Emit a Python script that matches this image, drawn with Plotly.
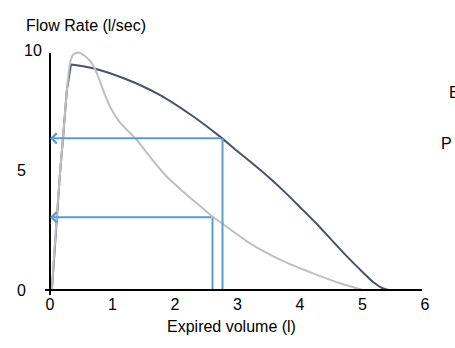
import plotly.graph_objects as go

# Data
vol_dark = [0.03, 0.09, 0.16, 0.21, 0.27, 0.336, 0.69, 1.2, 1.74, 2.27, 2.72, 3.0, 3.25, 3.5, 3.75, 4.0, 4.25, 4.5, 4.75, 5.0, 5.17, 5.3, 5.42]
flow_dark = [0.0, 2.4, 4.86, 6.39, 8.33, 9.4, 9.24, 8.8, 8.15, 7.27, 6.39, 5.78, 5.25, 4.7, 4.1, 3.45, 2.8, 2.1, 1.4, 0.75, 0.33, 0.1, 0.0]

vol_grey = [0.03, 0.09, 0.16, 0.21, 0.27, 0.32, 0.37, 0.45, 0.56, 0.67, 0.75, 0.85, 0.96, 1.09, 1.23, 1.39, 1.6, 1.87, 2.19, 2.4, 2.6, 2.75, 3.2, 3.73, 4.27, 4.64, 4.91, 5.0]
flow_grey = [0.0, 2.4, 4.86, 6.39, 8.33, 9.45, 9.8, 9.9, 9.75, 9.44, 9.03, 8.33, 7.64, 7.08, 6.67, 6.25, 5.55, 4.72, 3.96, 3.5, 3.06, 2.78, 1.94, 1.2, 0.63, 0.28, 0.07, 0.0]

arrow_vol = [2.76, 2.60]
arrow_flow = [6.32, 3.03]

x_ticks = [0, 1, 2, 3, 4, 5, 6]
y_tick_vals = [10, 5, 0]
y_tick_text = ["10", "5", "0"]

DARK = "#44546A"
GREY = "#BFBFBF"
BLUE = "#5B9BD5"
FONT = "Arial, Liberation Sans, sans-serif"

fig = go.Figure()
peak = flow_dark.index(max(flow_dark))
fig.add_trace(go.Scatter(x=vol_dark[:peak + 1], y=flow_dark[:peak + 1], mode="lines",
                         line=dict(color=DARK, width=2), hoverinfo="skip"))
fig.add_trace(go.Scatter(x=vol_dark[peak:], y=flow_dark[peak:], mode="lines",
                         line=dict(color=DARK, width=2, shape="spline", smoothing=0.8),
                         hoverinfo="skip"))
fig.add_trace(go.Scatter(x=vol_grey, y=flow_grey, mode="lines",
                         line=dict(color=GREY, width=2, shape="spline", smoothing=0.6),
                         hoverinfo="skip"))

annotations = []
for v, f in zip(arrow_vol, arrow_flow):
    fig.add_trace(go.Scatter(x=[v, v], y=[f, 0], mode="lines",
                             line=dict(color=BLUE, width=2), hoverinfo="skip"))
    annotations.append(dict(x=0, y=f, xref="x", yref="y", ax=v, ay=f,
                            axref="x", ayref="y", text="", showarrow=True,
                            arrowhead=4, arrowsize=1.0, arrowwidth=2,
                            arrowcolor=BLUE, standoff=0, startstandoff=0))

# y tick labels
y_label_right = {"10": 44, "5": 28, "0": 28}
for v, t in zip(y_tick_vals, y_tick_text):
    annotations.append(dict(x=(y_label_right[t] - 50) / 375, y=v, xref="paper", yref="y",
                            text=t, showarrow=False, xanchor="right", yanchor="middle",
                            font=dict(family=FONT, size=16, color="black")))

annotations.append(dict(x=-0.0693, y=1.1, xref="paper", yref="paper",
                        text="Flow Rate (l/sec)", showarrow=False,
                        xanchor="left", yanchor="middle",
                        font=dict(family=FONT, size=16, color="black")))
annotations.append(dict(x=0.485, y=-0.154, xref="paper", yref="paper",
                        text="Expired volume (l)", showarrow=False,
                        xanchor="center", yanchor="middle",
                        font=dict(family=FONT, size=16, color="black")))
annotations.append(dict(x=1.0587, y=0.825, xref="paper", yref="paper",
                        text="E", showarrow=False, xanchor="left", yanchor="middle",
                        font=dict(family=FONT, size=16, color="black")))
annotations.append(dict(x=1.0373, y=0.6125, xref="paper", yref="paper",
                        text="P", showarrow=False, xanchor="left", yanchor="middle",
                        font=dict(family=FONT, size=16, color="black")))

shapes = [
    dict(type="line", xref="paper", yref="paper", x0=-0.0133, x1=0.992, y0=0, y1=0,
         line=dict(color="black", width=2)),
    dict(type="line", xref="paper", yref="paper", x0=0, x1=0, y0=-0.0208, y1=0.9875,
         line=dict(color="black", width=2)),
]

fig.update_layout(
    width=455, height=348,
    margin=dict(l=50, r=30, t=50, b=58),
    plot_bgcolor="white", paper_bgcolor="white",
    showlegend=False,
    annotations=annotations,
    shapes=shapes,
    xaxis=dict(range=[0, 6], tickvals=x_ticks, showgrid=False, zeroline=False,
               showline=False, ticks="", ticklabelstandoff=3,
               tickfont=dict(family=FONT, size=16, color="black")),
    yaxis=dict(range=[0, 10], showticklabels=False, showgrid=False, zeroline=False,
               showline=False, ticks=""),
)

fig.write_html("out.html")
